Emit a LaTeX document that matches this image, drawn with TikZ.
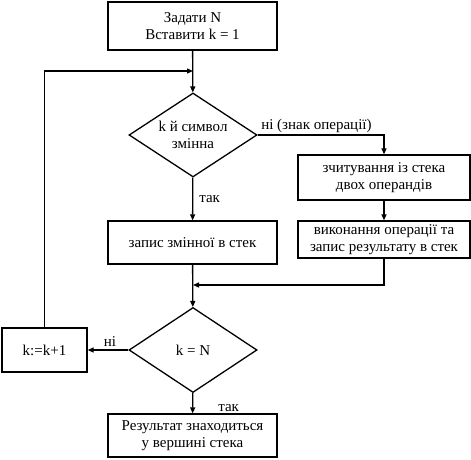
\documentclass[tikz,border=0pt]{standalone}
\usepackage{fontspec}
\setmainfont{Liberation Serif}
\usetikzlibrary{arrows.meta,shapes.geometric}
\begin{document}
\begin{tikzpicture}[x=1pt,y=-1pt,line width=1.3pt,
    >={Triangle[length=6pt,width=5pt]},
    blok/.style={draw, rectangle, align=center, inner sep=0pt, font=\fontsize{15}{17}\selectfont},
    umova/.style={draw, diamond, aspect=1.5, align=center, inner sep=0pt, font=\fontsize{15}{17}\selectfont},
    napys/.style={font=\fontsize{15}{17}\selectfont, inner sep=2pt}]
\useasboundingbox (0,0) rectangle (471,460);

% ---- blocks
\node[blok, minimum width=169pt, minimum height=48pt] (start) at (192.5,26) {Задати N\\Вставити k = 1};
\node[umova, minimum width=128pt, minimum height=84pt] (symb) at (193,135) {k й символ\\змінна};
\node[blok, minimum width=169pt, minimum height=43pt] (push) at (192.5,242.5) {запис змінної в стек};
\node[blok, minimum width=172pt, minimum height=45pt] (read) at (384,177.5) {зчитування із стека\\двох операндів};
\node[blok, minimum width=172pt, minimum height=37pt] (exec) at (384,239.5) {виконання операції та\\запис результату в стек};
\node[umova, minimum width=128pt, minimum height=85pt] (last) at (193,350) {k = N};
\node[blok, minimum width=85pt, minimum height=44pt] (inc) at (44.5,350) {k:=k+1};
\node[blok, minimum width=169pt, minimum height=43pt] (res) at (192.5,435.5) {Результат знаходиться\\у вершині стека};

% ---- points where lines meet
\coordinate (loop) at (193,71);
\coordinate (merge) at (193,285);

% ---- connectors
\draw[->] (start) -- (symb);
\draw[->] (inc) |- (loop);
\draw[->] (symb.east) -| (read.north) node[napys, pos=0, above right, xshift=1pt] {ні (знак операції)};
\draw[->] (symb) -- (push) node[napys, midway, right, xshift=4pt] {так};
\draw[->] (read) -- (exec);
\draw[->] (exec.south) |- (merge);
\draw[->] (push) -- (last);
\draw[->] (last.west) -- (inc.east) node[napys, midway, above, yshift=1pt, xshift=2pt] {ні};
\draw[->] (last) -- (res) node[napys, pos=0.75, right, xshift=23pt] {так};
\end{tikzpicture}
\end{document}
